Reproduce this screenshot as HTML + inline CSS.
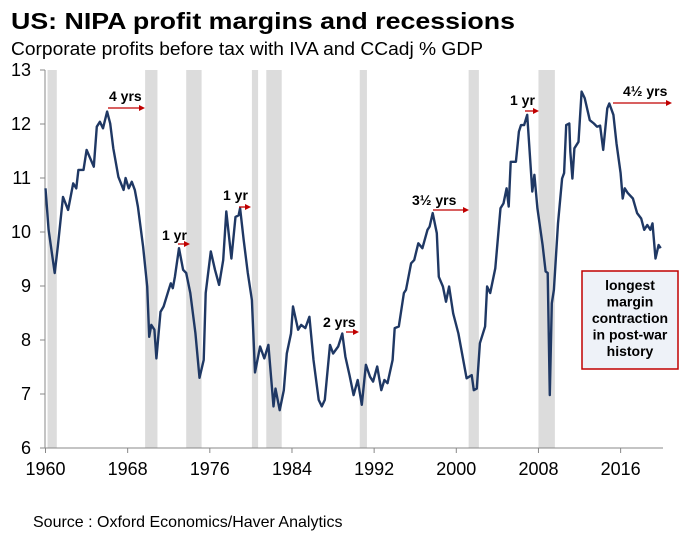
<!DOCTYPE html>
<html><head><meta charset="utf-8">
<style>
body{margin:0;background:#fff;}
svg{display:block;font-family:"Liberation Sans",Arial,sans-serif;}
</style></head>
<body>
<svg id="chart" width="680" height="542" viewBox="0 0 680 542">
<text x="11" y="29" font-size="23" font-weight="bold" textLength="504" lengthAdjust="spacingAndGlyphs">US: NIPA profit margins and recessions</text>
<text x="11" y="55" font-size="18" textLength="472" lengthAdjust="spacingAndGlyphs">Corporate profits before tax with IVA and CCadj % GDP</text>
<g id="rec"></g>
<g id="axes"></g>
<g id="series"></g>
<g id="annot"></g>
<text x="33" y="527" font-size="16">Source : Oxford Economics/Haver Analytics</text>
</svg>
<script>
const years=[1960,1960.3,1960.9,1961.2,1961.7,1962.2,1962.7,1963.0,1963.2,1963.7,1964.0,1964.7,1965.0,1965.3,1965.6,1966.0,1966.3,1966.6,1967.1,1967.6,1967.8,1968.1,1968.4,1968.7,1969.0,1969.5,1969.9,1970.1,1970.3,1970.6,1970.8,1971.2,1971.5,1972.0,1972.2,1972.4,1972.6,1973.0,1973.4,1973.7,1974.1,1974.6,1975.0,1975.4,1975.6,1976.1,1976.5,1976.9,1977.3,1977.6,1978.1,1978.5,1978.8,1978.95,1979.3,1979.7,1980.1,1980.4,1980.9,1981.3,1981.7,1982.2,1982.4,1982.8,1983.2,1983.5,1983.9,1984.1,1984.6,1984.9,1985.3,1985.7,1986.1,1986.6,1986.9,1987.2,1987.7,1988.0,1988.5,1988.9,1989.2,1989.6,1990.0,1990.4,1990.8,1991.2,1991.6,1991.9,1992.3,1992.7,1993.0,1993.3,1993.8,1994.0,1994.4,1994.9,1995.1,1995.6,1995.9,1996.3,1996.7,1997.2,1997.4,1997.7,1998.1,1998.3,1998.7,1999.0,1999.3,1999.7,2000.2,2001.0,2001.5,2001.7,2002.0,2002.3,2002.8,2003.0,2003.3,2003.8,2004.3,2004.6,2004.9,2005.1,2005.3,2005.8,2006.1,2006.3,2006.6,2006.9,2007.4,2007.6,2007.9,2008.4,2008.7,2008.9,2009.1,2009.3,2009.5,2009.9,2010.3,2010.5,2010.7,2011.0,2011.1,2011.3,2011.5,2011.9,2012.2,2012.5,2013.0,2013.4,2013.7,2014.0,2014.3,2014.7,2014.9,2015.3,2015.6,2016.0,2016.2,2016.4,2016.7,2017.2,2017.6,2018.0,2018.3,2018.6,2018.9,2019.1,2019.4,2019.7,2019.9];
const margins=[10.81,10.04,9.24,9.73,10.65,10.41,10.90,10.81,11.15,11.15,11.52,11.21,11.95,12.04,11.92,12.23,12.01,11.55,11.02,10.78,11.0,10.81,10.93,10.78,10.47,9.73,8.99,8.06,8.28,8.19,7.66,8.52,8.62,8.93,9.05,8.96,9.17,9.70,9.30,9.24,8.87,8.13,7.30,7.63,8.87,9.64,9.30,9.02,9.48,10.38,9.51,10.28,10.31,10.44,9.85,9.24,8.74,7.40,7.88,7.66,7.91,6.77,7.10,6.70,7.07,7.75,8.12,8.62,8.19,8.28,8.22,8.43,7.63,6.89,6.77,6.89,7.91,7.75,7.88,8.12,7.69,7.35,6.98,7.26,6.80,7.54,7.32,7.23,7.51,7.07,7.26,7.20,7.63,8.22,8.25,8.87,8.93,9.42,9.48,9.79,9.70,10.04,10.10,10.35,9.98,9.17,8.99,8.71,8.99,8.49,8.12,7.29,7.35,7.07,7.10,7.94,8.25,8.99,8.87,9.33,10.44,10.53,10.81,10.47,11.30,11.30,11.86,11.98,11.98,12.17,10.75,11.06,10.44,9.76,9.27,9.24,6.98,8.68,8.93,10.16,10.99,11.09,11.98,12.01,11.49,10.99,11.55,11.67,12.60,12.48,12.07,12.01,11.95,11.97,11.52,12.29,12.38,12.17,11.64,11.09,10.62,10.81,10.72,10.62,10.35,10.25,10.04,10.13,10.04,10.16,9.51,9.76,9.70];
const recStart=[1960.2,1969.7,1973.7,1980.1,1981.5,1990.6,2001.2,2008.0];
const recEnd=[1961.1,1970.9,1975.2,1980.7,1983.0,1991.3,2002.2,2009.6];
const xTicks=[1960,1968,1976,1984,1992,2000,2008,2016];
const yTicks=[6,7,8,9,10,11,12,13];

const NS='http://www.w3.org/2000/svg';
const X0=45.5,PXY=10.27,Y13=70,PXU=54;
function xs(y){return X0+(y-1960)*PXY;}
function ys(v){return Y13+(13-v)*PXU;}
function mk(tag,attrs,parent){const e=document.createElementNS(NS,tag);for(const k in attrs)e.setAttribute(k,attrs[k]);parent.appendChild(e);return e;}
const rec=document.getElementById('rec'),axes=document.getElementById('axes'),series=document.getElementById('series'),annot=document.getElementById('annot');
recStart.forEach((s,i)=>{
 const r=mk('rect',{x:xs(s),y:ys(13),width:xs(recEnd[i])-xs(s),height:ys(6)-ys(13),fill:'#dcdcdc'},rec);
 
 
});
// axes
const yl=mk('line',{x1:45,y1:ys(13),x2:45,y2:ys(6),stroke:'#888','stroke-width':1},axes);


const xl=mk('line',{x1:45,y1:ys(6),x2:663,y2:ys(6),stroke:'#888','stroke-width':1},axes);


yTicks.forEach(v=>{
 mk('line',{x1:40,y1:ys(v),x2:45,y2:ys(v),stroke:'#888'},axes);
 const t=mk('text',{x:31,y:ys(v)+6,'font-size':18,'text-anchor':'end'},axes);
 t.textContent=v;
 
 
});
xTicks.forEach(v=>{
 mk('line',{x1:xs(v),y1:ys(6),x2:xs(v),y2:ys(6)+5,stroke:'#888'},axes);
 const t=mk('text',{x:xs(v),y:475,'font-size':18,'text-anchor':'middle',textLength:40,lengthAdjust:'spacingAndGlyphs'},axes);
 t.textContent=v;
 
 
});
const pts=years.map((y,i)=>xs(y).toFixed(1)+','+ys(margins[i]).toFixed(1)).join(' ');
const pl=mk('polyline',{points:pts,fill:'none',stroke:'#1f3864','stroke-width':2.4,'stroke-linejoin':'round'},series);


// annotations
const notes=[["4 yrs",109,101,108,145,108],["1 yr",162,240,178,190,244],["1 yr",223,200,239,251,207],["2 yrs",323,327,346,359,332],["3½ yrs",412,205,433,469,210],["1 yr",510,105,525,539,111],["4½ yrs",623,96,613,672,103]];
notes.forEach(n=>{
 const t=mk('text',{x:n[1],y:n[2],'font-size':14,'font-weight':'bold'},annot);
 t.textContent=n[0];
 
 
 mk('line',{x1:n[3],y1:n[5],x2:n[4]-5,y2:n[5],stroke:'#c00000','stroke-width':1.3},annot);
 mk('polygon',{points:`${n[4]},${n[5]} ${n[4]-6},${n[5]-3} ${n[4]-6},${n[5]+3}`,fill:'#c00000'},annot);
});
const box=mk('rect',{x:582,y:271,width:96,height:98,fill:'#eef2f8',stroke:'#c00000','stroke-width':1.5},annot);


["longest","margin","contraction","in post-war","history"].forEach((s,i)=>{
 const t=mk('text',{x:630,y:290+i*16.5,'font-size':14,'font-weight':'bold','text-anchor':'middle'},annot);
 t.textContent=s;
 
 
});
</script>
</body></html>
